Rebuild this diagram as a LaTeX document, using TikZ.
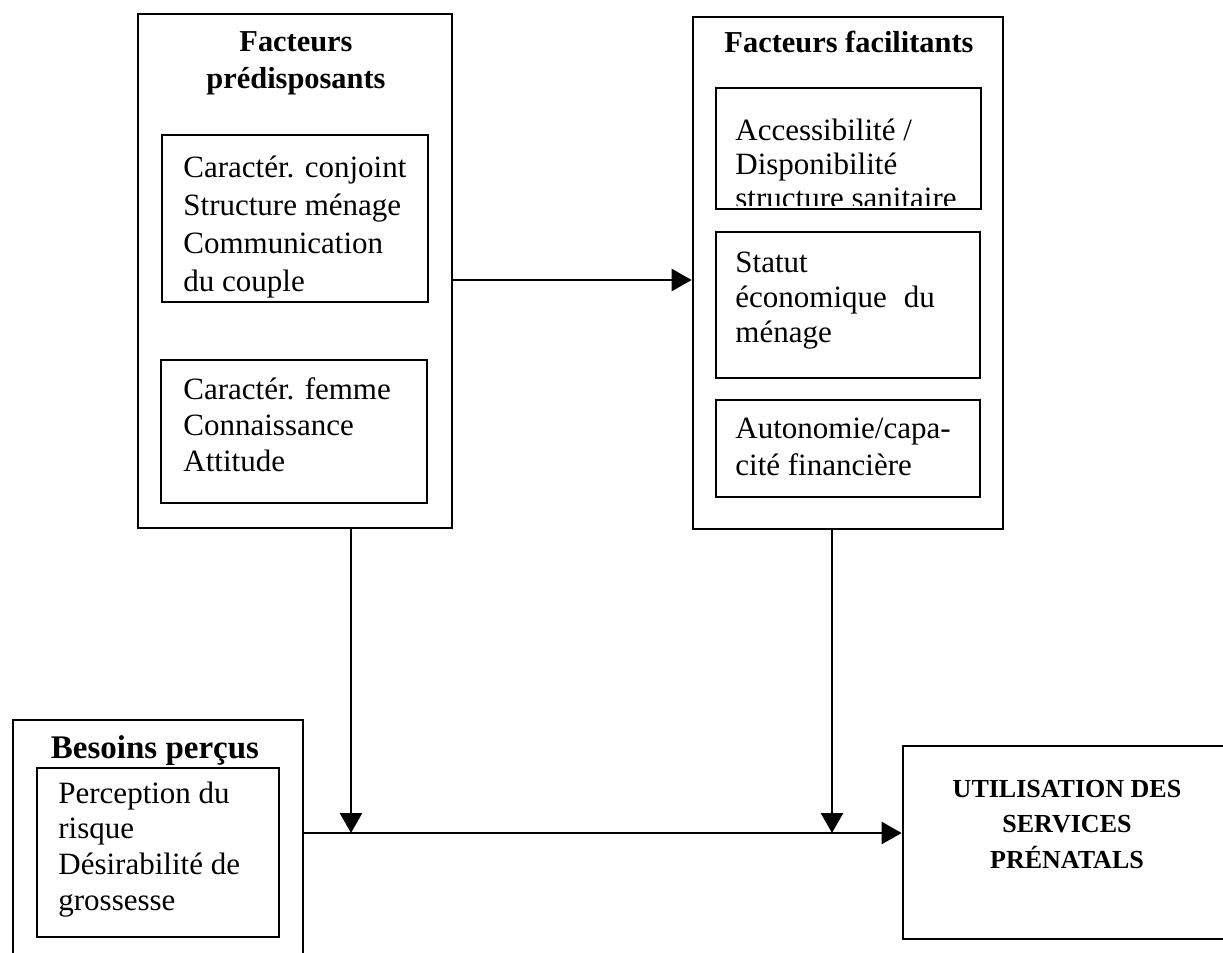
\documentclass[tikz,border=0pt]{standalone}
\usepackage{fontspec}
\setmainfont{Liberation Serif}
\usetikzlibrary{arrows.meta,fit}
\begin{document}
\begin{tikzpicture}[x=0.5pt,y=-0.5pt,
  box/.style={draw, line width=1.35pt, inner sep=0pt},
  body/.style={anchor=base west, align=left, inner sep=0pt, font=\fontsize{15.5}{18}\selectfont},
  ttl/.style={anchor=base, align=center, inner sep=0pt, font=\bfseries\fontsize{15.2}{18}\selectfont},
  link/.style={line width=1.35pt},
  arr/.style={link, -{Triangle[length=10pt,width=11pt]}}]
\useasboundingbox (0,0) rectangle (1223,953);
\clip (0,0) rectangle (1223,953);

% boxes
\node[box, fit={(138,14) (452,528)}] (pre) {};
\node[box, fit={(162,135) (428,302)}] (pre1) {};
\node[box, fit={(161,360) (427,503)}] (pre2) {};
\node[box, fit={(693,17) (1003,529)}] (fac) {};
\node[box, fit={(716,88) (981,209)}] (facA) {};
\node[box, fit={(716,232) (980,378)}] (facB) {};
\node[box, fit={(716,400) (980,497)}] (facC) {};
\node[box, fit={(13,720) (303,1010)}] (bes) {};
\node[box, fit={(37,768) (279,937)}] (besI) {};
\node[box, fit={(903,746) (1270,939)}] (util) {};

% titles (anchor = baseline of the last line)
\node[ttl] (preT) at (296,88) {Facteurs\\prédisposants};
\node[ttl] (facT) at (849,53) {Facteurs facilitants};
\node[ttl, font=\bfseries\fontsize{16.5}{18}\selectfont] (besT) at (155,758) {Besoins perçus};
\node[ttl, font=\bfseries\fontsize{13}{17.75}\selectfont] (utilT) at (1067,868) {UTILISATION DES\\SERVICES\\PRÉNATALS};

% body texts (anchor = baseline of the last line)
\node[body, font=\fontsize{15.5}{18.9}\selectfont] (pre1T) at (183,291) {Caractér. conjoint\\Structure ménage\\Communication\\du couple};
\node[body] (pre2T) at (183,471) {Caractér. femme\\Connaissance\\Attitude};
\begin{scope}
\clip (716,88) rectangle (981,205);
\node[body, font=\fontsize{15.5}{17}\selectfont] (facAT) at (735,208) {Accessibilité /\\Disponibilité\\structure sanitaire};
\end{scope}
\node[body, font=\fontsize{15.5}{17.5}\selectfont] (facBT) at (735,342) {Statut\\économique\hspace{0.3em} du\\ménage};
\node[body, font=\fontsize{15.5}{18.5}\selectfont] (facCT) at (735,475) {Autonomie/capa-\\cité financière};
\node[body, font=\fontsize{15.5}{17.8}\selectfont] (besIT) at (58,910) {Perception du\\risque\\Désirabilité de\\grossesse};

% connectors
\coordinate (hA) at (0,280);
\coordinate (hB) at (0,833);
\coordinate (vL) at (351,0);
\coordinate (vR) at (832,0);
\draw[arr] (pre.east |- hA) -- (fac.west |- hA);
\draw[arr] (bes.east |- hB) -- (util.west |- hB);
\draw[arr] (pre.south -| vL) -- (vL |- hB);
\draw[arr] (fac.south -| vR) -- (vR |- hB);
\end{tikzpicture}
\end{document}
